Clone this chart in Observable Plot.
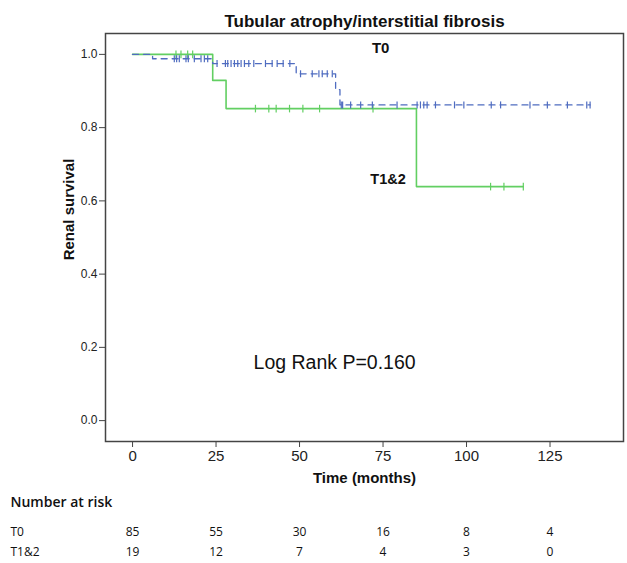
<!DOCTYPE html>
<html><head><meta charset="utf-8">
<script src="https://cdn.jsdelivr.net/npm/d3@7"></script>
<script src="https://cdn.jsdelivr.net/npm/@observablehq/plot@0.6"></script>
<style>
body{margin:0;background:#fff;}
#chart svg{display:block;}
</style>
</head><body><div id="chart"></div>
<script>
// ---- data ----
const titleText = "Tubular atrophy/interstitial fibrosis";
const xLabel = "Time (months)";
const yLabel = "Renal survival";
const pText = "Log Rank P=0.160";
const groupNames = ["T0", "T1&2"];
const xTicks = [0, 25, 50, 75, 100, 125];
const yTicks = [0, 0.2, 0.4, 0.6, 0.8, 1.0];

// Kaplan-Meier step points (time, survival)
const t0Time = [0, 6, 24, 49, 60.8, 62.1, 137];
const t0Surv = [1, 0.988, 0.975, 0.947, 0.904, 0.862, 0.862];
const t12Time = [0, 24, 28, 85, 117];
const t12Surv = [1, 0.929, 0.852, 0.639, 0.639];

// censored observations (months)
const t0Censor = [12.5, 13.2, 14, 16, 16.7, 18.5, 20.5, 21.5, 22.5,
  25.3, 27.8, 28.5, 29.5, 30.5, 31.5, 32.5, 33.5, 34.8, 36.3, 39.8, 41.8, 43.3, 45.1, 47.1,
  50.3, 53.8, 55.8, 56.8, 58.3, 59.8,
  62.5, 62.9, 65.3, 68.3, 71.8, 79.2, 85.2, 86.2, 87.2, 88.2, 90.7, 96.4, 99.2, 107.4, 110.2, 119, 124.2, 130.2, 136, 137];
const t12Censor = [13, 14.5, 16.5, 18, 36.8, 40.8, 43, 47, 51, 56, 72, 107.2, 111.2, 117];

// number at risk
const riskT0 = [85, 55, 30, 16, 8, 4];
const riskT12 = [19, 12, 7, 4, 3, 0];

// ---- build tables ----
const toRows = (ts, ss) => ts.map((t, i) => ({t, s: ss[i]}));
const stepAt = (ts, ss, t) => { let v = ss[0]; for (let i = 0; i < ts.length; i++) if (ts[i] <= t) v = ss[i]; return v; };
const t0Line = toRows(t0Time, t0Surv);
const t12Line = toRows(t12Time, t12Surv);
const t0Cens = t0Censor.map(t => ({t, s: stepAt(t0Time, t0Surv, t)}));
const t12Cens = t12Censor.map(t => ({t, s: stepAt(t12Time, t12Surv, t)}));
const risk0 = xTicks.map((t, i) => ({t, n: riskT0[i]}));
const risk12 = xTicks.map((t, i) => ({t, n: riskT12[i]}));

const blue = "#4f6cc0";
const green = "#62cf62";
const vbar = {draw(ctx, size) { const r = Math.sqrt(size / Math.PI); ctx.moveTo(0, -r); ctx.lineTo(0, r); }};
const arial = "Liberation Sans, Arial, sans-serif";
const narrow = "Liberation Sans Narrow, Arial Narrow, Liberation Sans, sans-serif";
const tableFont = "Open Sans, Noto Sans, sans-serif";

const plot = Plot.plot({
  width: 627, height: 563,
  marginLeft: 105, marginRight: 4, marginTop: 33, marginBottom: 122,
  style: {fontFamily: arial, fontSize: "12px", color: "#222", background: "#fff"},
  x: {domain: [-8.1, 147]},
  y: {domain: [-0.057, 1.057]},
  marks: [
    Plot.axisY({ticks: yTicks, tickFormat: d3.format(".1f"), tickSize: 6, tickPadding: 2, label: null, fontSize: 12, stroke: "#444"}),
    Plot.axisX({ticks: xTicks, tickSize: 6, tickPadding: 3, label: null, fontSize: 15, fontFamily: narrow, stroke: "#444"}),
    Plot.line(t12Line, {x: "t", y: "s", curve: "step-after", stroke: green, strokeWidth: 1.6}),
    Plot.dot(t12Cens, {x: "t", y: "s", symbol: vbar, r: 3.8, stroke: green, strokeWidth: 1.2, fill: "none"}),
    Plot.line(t0Line, {x: "t", y: "s", curve: "step-after", stroke: blue, strokeWidth: 1.3, strokeDasharray: "6,5"}),
    Plot.dot(t0Cens, {x: "t", y: "s", symbol: vbar, r: 3.5, stroke: blue, strokeWidth: 1.2, fill: "none"}),
    Plot.frame({stroke: "#444", strokeWidth: 1.5}),
    // title
    Plot.text([titleText], {frameAnchor: "top", lineAnchor: "middle", dy: -12, fontSize: 17, fontWeight: "bold", fill: "#111"}),
    // axis labels
    Plot.text([xLabel], {frameAnchor: "bottom", lineAnchor: "middle", dy: 37, fontSize: 15, fontWeight: "bold", fontFamily: narrow, fill: "#111"}),
    Plot.text([yLabel], {frameAnchor: "left", textAnchor: "middle", lineAnchor: "middle", dx: -36, dy: -28, rotate: -90, fontSize: 15, fontWeight: "bold", fill: "#111"}),
    // group labels & p-value
    Plot.text([groupNames[0]], {x: 74.3, y: 1.016, fontSize: 15, fontWeight: "bold", fill: "#111"}),
    Plot.text([groupNames[1]], {x: 76.5, y: 0.66, fontSize: 14.5, fontWeight: "bold", fill: "#111"}),
    Plot.text([pText], {x: 60.5, y: 0.158, fontSize: 19.5, fill: "#111"}),
    // number at risk table
    Plot.text(["Number at risk"], {frameAnchor: "bottom-left", lineAnchor: "middle", dx: -95, dy: 61, textAnchor: "start", fontSize: 14, fontWeight: 600, fontFamily: tableFont, fill: "#111"}),
    Plot.text([groupNames[0]], {frameAnchor: "bottom-left", lineAnchor: "middle", dx: -95, dy: 91, textAnchor: "start", fontSize: 12, fontFamily: tableFont, fill: "#111"}),
    Plot.text([groupNames[1]], {frameAnchor: "bottom-left", lineAnchor: "middle", dx: -95, dy: 111, textAnchor: "start", fontSize: 12, fontFamily: tableFont, fill: "#111"}),
    Plot.text(risk0, {x: "t", text: "n", frameAnchor: "bottom", lineAnchor: "middle", dy: 91, fontSize: 12, fontFamily: tableFont, fill: "#111"}),
    Plot.text(risk12, {x: "t", text: "n", frameAnchor: "bottom", lineAnchor: "middle", dy: 111, fontSize: 12, fontFamily: tableFont, fill: "#111"})
  ]
});
document.getElementById("chart").appendChild(plot);
</script>
</body></html>
